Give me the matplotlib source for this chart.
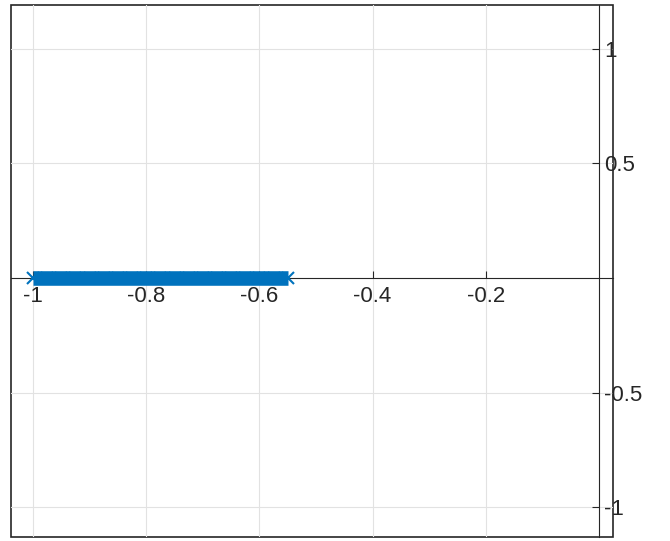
import matplotlib
matplotlib.use("Agg")
import matplotlib.pyplot as plt
from matplotlib.ticker import FixedLocator, FixedFormatter

plt.rcParams['font.family'] = ['Liberation Sans', 'DejaVu Sans']

# points of the trajectory along the real axis
x_vals = [-1.0, -0.975, -0.95, -0.925, -0.9, -0.875, -0.85, -0.825, -0.8, -0.775,
          -0.75, -0.725, -0.7, -0.675, -0.65, -0.625, -0.6, -0.575, -0.55]
y_vals = [0.0] * len(x_vals)

x_ticks = [-1, -0.8, -0.6, -0.4, -0.2]
x_labels = ["-1", "-0.8", "-0.6", "-0.4", "-0.2"]
y_ticks = [-1, -0.5, 0.5, 1]
y_labels = ["-1", "-0.5", "0.5", "1"]

axis_col = "#262626"

fig = plt.figure(figsize=(6.7, 5.41), dpi=100)
ax = fig.add_axes([11 / 670, 4 / 541, 602 / 670, 532 / 541])

ax.plot(x_vals, y_vals, color="#0072BD", lw=10.5, marker="x", ms=8.5, mew=1.5,
        solid_capstyle="butt", zorder=3)

ax.set_xlim(-1.039, 0.025)
ax.set_ylim(-1.13, 1.19)

# axes crossing at the origin, labels below / to the right
for s in ["left", "top"]:
    ax.spines[s].set_visible(False)
ax.spines["bottom"].set_position(("data", 0))
ax.spines["right"].set_position(("data", 0))
ax.spines["bottom"].set_color(axis_col)
ax.spines["right"].set_color(axis_col)
ax.yaxis.tick_right()

ax.xaxis.set_major_locator(FixedLocator(x_ticks))
ax.xaxis.set_major_formatter(FixedFormatter(x_labels))
ax.yaxis.set_major_locator(FixedLocator(y_ticks))
ax.yaxis.set_major_formatter(FixedFormatter(y_labels))
ax.tick_params(axis="both", direction="in", length=5, width=0.8, color=axis_col,
               labelcolor=axis_col, labelsize=16)
ax.tick_params(axis="x", pad=6)
ax.tick_params(axis="y", pad=4)

# grid lines at every tick, including the origin
for xv in x_ticks + [0]:
    ax.axvline(xv, color="#e2e2e2", lw=0.8, zorder=0)
for yv in y_ticks:
    ax.axhline(yv, color="#e2e2e2", lw=0.8, zorder=0)

# outer box
ax.patch.set_edgecolor(axis_col)
ax.patch.set_linewidth(1.2)

fig.savefig("out.png", dpi=100)
